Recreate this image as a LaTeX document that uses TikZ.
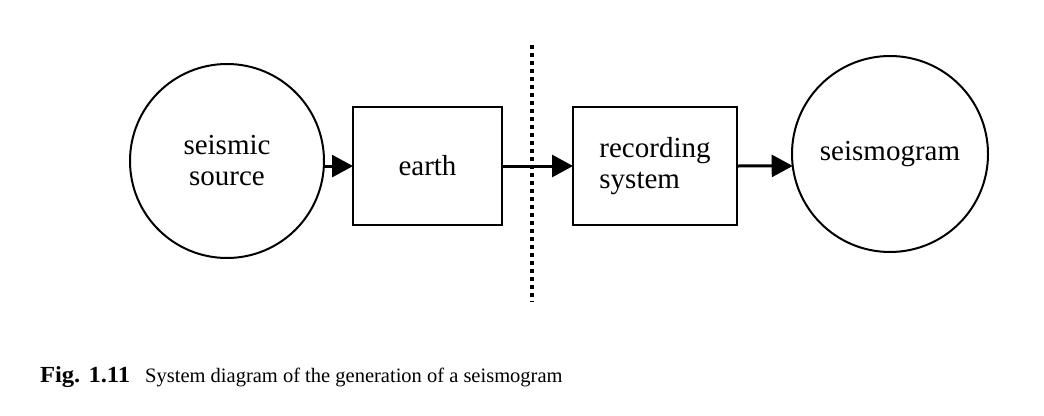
\documentclass[tikz,border=0pt]{standalone}
\usepackage{fontspec}
\setmainfont{Liberation Serif}
\usetikzlibrary{arrows.meta}
\begin{document}
\begin{tikzpicture}[x=1pt,y=-1pt,
  every node/.style={inner sep=0pt, outer sep=0pt},
  lbl/.style={font=\fontsize{29}{31}\selectfont},
  roundbox/.style={draw, line width=2pt, circle, lbl},
  rectbox/.style={draw, line width=2pt, rectangle, lbl},
  arr/.style={line width=3pt, -{Triangle[length=21pt,width=22pt]}},
  divider/.style={line width=3.5pt, dash pattern=on 4pt off 4pt},
  caption/.style={anchor=base west}]
\useasboundingbox (0,0) rectangle (1044,415);
\node[roundbox, minimum size=194pt, align=center] (src) at (227,161) {seismic\\source};
\node[rectbox, minimum width=149pt, minimum height=118pt] (earth) at (427.5,166) {earth};
\node[rectbox, minimum width=164pt, minimum height=118pt, align=left] (rec) at (655,166) {recording\\system};
\node[roundbox, minimum size=196pt] (sg) at (890,154) {seismogram};
\coordinate (dtop) at (532,45);
\coordinate (dbot) at (532,302);
\draw[divider] (dtop) -- (dbot);
\draw[arr] (src.-3) -- (src.-3 -| earth.west);
\draw[arr] (earth.east) -- (rec.west);
\draw[arr] (rec.east) -- (sg.187);
\node[caption] (cap) at (40,382) {\scalebox{1.07}[1]{\fontsize{23}{26}\selectfont\bfseries Fig. 1.11}\hspace{15pt}{\fontsize{20.5}{24}\selectfont System diagram of the generation of a seismogram}};
\end{tikzpicture}
\end{document}
